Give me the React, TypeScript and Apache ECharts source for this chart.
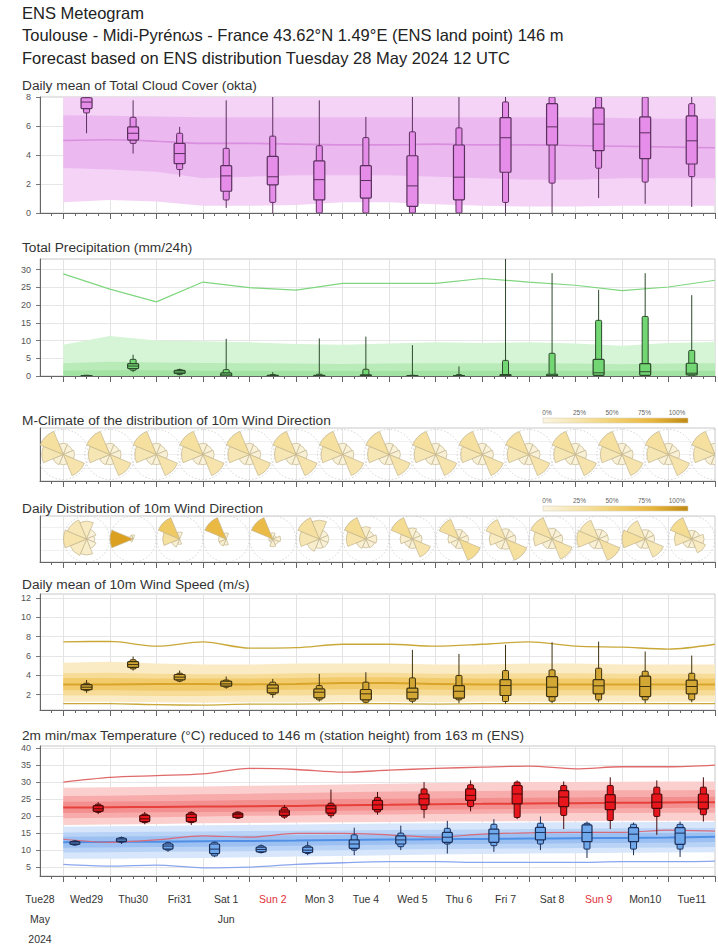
import React, { useEffect, useRef } from "react";
import * as echarts from "echarts";

const FONT = "'Liberation Sans', Arial, Helvetica, sans-serif";

// ---------- time axis: hours since Tue 28 May 2024 00 UTC ----------
const X_MIN = 12;
const X_MAX = 360;
const dayTickHours = [24, 48, 72, 96, 120, 144, 168, 192, 216, 240, 264, 288, 312, 336, 360];
const dayLabelHours = [12, 36, 60, 84, 108, 132, 156, 180, 204, 228, 252, 276, 300, 324, 348];
const dayLabels = ["Tue28", "Wed29", "Thu30", "Fri31", "Sat 1", "Sun 2", "Mon 3", "Tue 4", "Wed 5", "Thu 6", "Fri 7", "Sat 8", "Sun 9", "Mon10", "Tue11"];
const dayLabelSub: Record<string, string[]> = { Tue28: ["May", "2024"], "Sat 1": ["Jun"] };
const sundayLabels = ["Sun 2", "Sun 9"];
const sixHourTicks: number[] = [];
for (let h = 18; h < X_MAX; h += 6) if (h % 24 !== 0) sixHourTicks.push(h);

// sample times of climate bands / lines (00 UTC)
const climHours = [24, 48, 72, 96, 120, 144, 168, 192, 216, 240, 264, 288, 312, 336, 360];
// daily box times (12 UTC), min temp (06 UTC), max temp (18 UTC)
const noonHours = [36, 60, 84, 108, 132, 156, 180, 204, 228, 252, 276, 300, 324, 348];
const tminHours = [30, 54, 78, 102, 126, 150, 174, 198, 222, 246, 270, 294, 318, 342];
const tmaxHours = [42, 66, 90, 114, 138, 162, 186, 210, 234, 258, 282, 306, 330, 354];

// ---------- Cloud cover (okta) ----------
// [min, p10, p25, median, p75, p90, max]
const cloudBoxes = [
  [5.5, 6.9, 7.2, 7.65, 7.95, 8, 8],
  [4.1, 4.8, 5.03, 5.5, 5.94, 6.6, 7.77],
  [2.5, 3.0, 3.4, 4.1, 4.8, 5.5, 5.94],
  [0.35, 0.9, 1.5, 2.56, 3.27, 4.46, 7.77],
  [0, 0.73, 1.94, 2.5, 3.9, 5.3, 8],
  [0, 0, 0.9, 2.3, 3.6, 4.64, 7.77],
  [0, 0, 1.03, 2.24, 3.27, 5.2, 6.63],
  [0, 0, 0.46, 1.87, 3.95, 5.6, 8],
  [0, 0, 0.91, 2.47, 4.69, 5.87, 8],
  [0, 0.73, 2.81, 5.19, 6.58, 7.66, 8],
  [0, 2.06, 4.69, 5.94, 7.54, 8, 8],
  [1.03, 3.09, 4.3, 6.13, 7.25, 8, 8],
  [0.64, 2.13, 3.75, 5.53, 6.63, 8, 8],
  [0.41, 2.51, 3.38, 4.98, 6.7, 7.54, 8],
];
const cloudOuterLow = [0.75, 0.9, 0.8, 0.5, 0.5, 0.55, 0.75, 0.75, 0.6, 0.5, 0.45, 0.45, 0.5, 0.5, 0.5];
const cloudOuterHigh = [8, 8, 8, 8, 8, 8, 8, 8, 8, 8, 8, 8, 8, 8, 8];
const cloudInnerLow = [3.1, 3.0, 2.85, 2.4, 2.5, 2.6, 2.6, 2.6, 2.5, 2.4, 2.3, 2.3, 2.4, 2.4, 2.4];
const cloudInnerHigh = [6.75, 6.7, 6.65, 6.6, 6.6, 6.6, 6.6, 6.6, 6.6, 6.6, 6.6, 6.6, 6.55, 6.5, 6.5];
const cloudMedian = [5.0, 5.05, 4.95, 4.8, 4.8, 4.75, 4.7, 4.7, 4.75, 4.7, 4.7, 4.65, 4.6, 4.55, 4.5];

// ---------- Precipitation (mm/24h) ----------
const precipBoxes = [
  [0, 0, 0, 0.05, 0.1, 0.2, 0.3],
  [1.1, 1.6, 2.1, 2.8, 3.5, 4.7, 6.0],
  [0.2, 0.4, 0.7, 1.1, 1.6, 1.8, 2.1],
  [0, 0, 0, 0.3, 0.9, 1.8, 10.5],
  [0, 0, 0, 0.05, 0.2, 0.4, 1.1],
  [0, 0, 0, 0, 0.2, 0.5, 10.6],
  [0, 0, 0, 0.1, 0.3, 1.9, 11.1],
  [0, 0, 0, 0, 0.1, 0.2, 8.7],
  [0, 0, 0, 0, 0.1, 0.4, 2.7],
  [0, 0, 0, 0.1, 0.4, 4.4, 34],
  [0, 0, 0, 0.1, 0.5, 6.4, 29],
  [0, 0, 0.2, 0.9, 4.7, 15.7, 24.3],
  [0, 0, 0.2, 1.2, 3.5, 16.8, 29],
  [0, 0, 0.3, 0.8, 3.6, 7.2, 22.8],
];
const precipOuterHigh = [8.8, 11.3, 10.0, 9.8, 9.5, 9.0, 8.8, 9.2, 9.5, 9.3, 9.5, 9.2, 8.5, 9.3, 9.6];
const precipMidHigh = [3.6, 4.0, 3.8, 3.7, 3.6, 3.5, 3.4, 3.5, 3.6, 3.6, 3.6, 3.5, 3.3, 3.5, 3.6];
const precipInnerHigh = [1.5, 1.6, 1.6, 1.5, 1.5, 1.4, 1.4, 1.4, 1.5, 1.5, 1.5, 1.4, 1.4, 1.4, 1.5];
const precipZero = [0, 0, 0, 0, 0, 0, 0, 0, 0, 0, 0, 0, 0, 0, 0];
const precipClimMax = [28.8, 24.5, 20.9, 26.5, 24.9, 24.2, 26.1, 26.1, 26.1, 27.5, 26.5, 25.6, 24.1, 25.1, 27.0];

// ---------- Wind direction roses: [N, NE, E, SE, S, SW, W, NW] (%) ----------
const climateRoseFreq = [6, 5, 6, 25, 5, 6, 22, 30];
const dailyRoseFreq = [
  [15, 5, 3, 5, 12, 15, 25, 20],
  [3, 0, 0, 0, 0, 2, 92, 3],
  [5, 0, 0, 0, 3, 8, 30, 55],
  [5, 0, 0, 0, 5, 8, 8, 72],
  [5, 2, 8, 5, 8, 2, 2, 70],
  [20, 5, 5, 5, 5, 10, 22, 30],
  [10, 5, 8, 6, 5, 7, 25, 35],
  [8, 5, 6, 25, 6, 5, 10, 35],
  [6, 5, 6, 35, 6, 5, 8, 30],
  [6, 5, 6, 30, 6, 7, 15, 25],
  [6, 5, 6, 25, 5, 6, 18, 28],
  [5, 5, 5, 28, 5, 6, 25, 22],
  [5, 5, 5, 22, 5, 6, 30, 22],
  [5, 5, 10, 15, 5, 6, 20, 35],
];
const roseLegendLabels = ["0%", "25%", "50%", "75%", "100%"];

// ---------- Wind speed (m/s) ----------
const windBoxes = [
  [2.17, 2.4, 2.5, 2.76, 3.03, 3.17, 3.5],
  [4.48, 4.65, 4.8, 5.1, 5.4, 5.6, 5.93],
  [3.28, 3.38, 3.52, 3.8, 4.07, 4.2, 4.48],
  [2.6, 2.76, 2.86, 3.1, 3.38, 3.5, 3.86],
  [1.66, 2.0, 2.17, 2.66, 3.0, 3.28, 3.62],
  [1.28, 1.45, 1.66, 2.24, 2.59, 2.93, 4.14],
  [1.1, 1.2, 1.45, 2.07, 2.52, 3.28, 4.31],
  [1.1, 1.31, 1.55, 2.24, 2.66, 3.72, 6.62],
  [1.1, 1.45, 1.62, 2.34, 2.93, 3.97, 6.2],
  [1.03, 1.28, 1.9, 2.93, 3.55, 4.48, 7.14],
  [1.1, 1.31, 1.79, 2.76, 3.86, 4.55, 7.41],
  [1.2, 1.45, 2.07, 2.9, 3.55, 4.72, 7.48],
  [1.1, 1.45, 1.79, 2.83, 3.9, 4.41, 6.45],
  [1.2, 1.45, 2.07, 2.83, 3.5, 4.2, 6.03],
];
const windOuterLow = [1.25, 1.25, 1.2, 1.15, 1.2, 1.2, 1.25, 1.25, 1.2, 1.25, 1.25, 1.25, 1.25, 1.25, 1.25];
const windOuterHigh = [5.3, 5.4, 5.2, 5.1, 5.1, 5.2, 5.2, 5.2, 5.1, 5.1, 5.2, 5.2, 5.1, 5.1, 5.1];
const windMidLow = [1.9, 1.9, 1.85, 1.85, 1.9, 1.9, 1.95, 1.95, 1.9, 1.9, 1.9, 1.9, 1.9, 1.9, 1.9];
const windMidHigh = [4.2, 4.25, 4.15, 4.1, 4.1, 4.2, 4.25, 4.25, 4.15, 4.15, 4.2, 4.2, 4.15, 4.15, 4.15];
const windInnerLow = [2.45, 2.45, 2.4, 2.4, 2.45, 2.5, 2.55, 2.55, 2.5, 2.45, 2.45, 2.45, 2.45, 2.45, 2.45];
const windInnerHigh = [3.7, 3.7, 3.65, 3.65, 3.65, 3.7, 3.8, 3.8, 3.7, 3.65, 3.65, 3.65, 3.65, 3.65, 3.65];
const windMedian = [3.05, 3.05, 3.1, 3.1, 3.05, 3.1, 3.2, 3.2, 3.1, 3.05, 3.05, 3.05, 3.05, 3.05, 3.05];
const windClimMax = [7.45, 7.5, 7.0, 7.45, 6.8, 6.85, 7.2, 7.2, 7.0, 7.2, 7.45, 7.0, 6.9, 6.7, 7.2];
const windClimMin = [1.05, 1.05, 0.95, 0.9, 1.0, 1.0, 1.05, 1.05, 1.0, 1.05, 1.05, 1.05, 1.05, 1.05, 1.05];

// ---------- Temperature (°C) ----------
const tmaxBoxes = [
  [20.7, 21.2, 21.5, 22.25, 23.2, 23.6, 24.2],
  [17.7, 18.2, 18.5, 19.3, 20.3, 20.7, 21.3],
  [17.5, 18.2, 18.5, 19.7, 20.7, 21.2, 21.5],
  [19.3, 19.5, 19.7, 20.5, 21.0, 21.3, 21.5],
  [19.3, 19.8, 20.3, 21.3, 21.9, 22.6, 23.4],
  [19.5, 20.2, 21.0, 22.25, 23.2, 23.9, 27.9],
  [20.5, 21.3, 22.0, 23.4, 24.7, 25.6, 27.2],
  [19.5, 22.0, 23.4, 25.2, 26.6, 28.1, 30.1],
  [21.5, 22.9, 24.7, 26.2, 28.1, 29.3, 30.6],
  [19.2, 19.7, 23.7, 26.6, 29.1, 30.1, 30.6],
  [16.3, 20.3, 22.9, 25.7, 27.6, 29.1, 30.3],
  [16.3, 18.8, 22.0, 24.2, 26.4, 29.1, 31.5],
  [14.6, 20.0, 22.4, 24.2, 26.6, 28.6, 30.6],
  [18.5, 20.5, 22.2, 24.2, 26.6, 28.6, 31.5],
];
const tminBoxes = [
  [11.4, 11.6, 11.8, 12.2, 12.6, 12.8, 13.1],
  [11.9, 12.4, 12.6, 13.1, 13.6, 13.8, 14.1],
  [9.6, 10.1, 10.4, 11.3, 11.9, 12.3, 12.6],
  [8.1, 8.4, 9.1, 10.4, 11.9, 12.4, 12.6],
  [9.1, 9.4, 9.6, 10.3, 11.0, 11.4, 11.8],
  [8.6, 9.1, 9.4, 10.1, 11.0, 11.4, 12.6],
  [8.6, 10.1, 10.6, 11.9, 13.1, 14.6, 16.7],
  [10.1, 11.1, 11.9, 13.1, 14.3, 15.1, 17.3],
  [9.1, 11.9, 12.4, 13.9, 15.3, 16.5, 18.7],
  [9.6, 11.4, 12.4, 14.9, 16.3, 17.7, 19.2],
  [10.1, 11.9, 13.1, 15.3, 16.8, 18.0, 20.0],
  [7.8, 10.4, 12.6, 15.3, 17.5, 18.0, 18.5],
  [8.6, 10.4, 12.6, 14.8, 16.7, 17.7, 18.2],
  [8.1, 10.4, 11.8, 15.1, 16.7, 17.7, 18.5],
];
const tmaxOuterHigh = [28.4, 28.6, 28.7, 28.8, 29.0, 29.2, 29.4, 29.6, 29.8, 30.0, 30.1, 30.1, 30.2, 30.3, 30.3];
const tmaxOuterLow = [17.5, 17.6, 17.8, 18.0, 18.1, 18.2, 18.3, 18.4, 18.5, 18.5, 18.6, 18.6, 18.7, 18.7, 18.7];
const tmaxMidHigh = [26.0, 26.1, 26.3, 26.5, 26.7, 26.9, 27.1, 27.3, 27.4, 27.5, 27.6, 27.6, 27.7, 27.7, 27.8];
const tmaxMidLow = [19.5, 19.6, 19.8, 20.0, 20.2, 20.3, 20.5, 20.6, 20.7, 20.8, 20.9, 21.0, 21.0, 21.1, 21.1];
const tmaxInnerHigh = [24.3, 24.4, 24.5, 24.6, 24.8, 24.9, 25.1, 25.2, 25.3, 25.4, 25.5, 25.6, 25.7, 25.7, 25.8];
const tmaxInnerLow = [21.0, 21.1, 21.2, 21.3, 21.4, 21.5, 21.7, 21.8, 22.0, 22.1, 22.2, 22.3, 22.4, 22.5, 22.6];
const tmaxMedian = [22.6, 22.7, 22.8, 22.9, 23.0, 23.1, 23.3, 23.4, 23.6, 23.7, 23.8, 23.9, 24.0, 24.1, 24.2];
const tmaxClimMax = [30.1, 31.5, 32.0, 32.5, 34.1, 33.8, 33.0, 33.6, 34.1, 34.5, 34.8, 34.0, 34.6, 34.6, 35.1];
const tmaxClimMin = [13.3, 12.4, 13.1, 14.3, 13.9, 15.0, 15.0, 14.6, 13.9, 14.8, 15.2, 15.3, 15.3, 16.0, 15.7];
const tminOuterHigh = [17.0, 17.1, 17.2, 17.4, 17.5, 17.6, 17.8, 17.9, 18.0, 18.1, 18.2, 18.3, 18.3, 18.4, 18.4];
const tminOuterLow = [7.6, 7.6, 7.7, 7.8, 8.0, 8.2, 8.4, 8.6, 8.8, 9.0, 9.1, 9.2, 9.3, 9.4, 9.5];
const tminMidHigh = [15.3, 15.4, 15.5, 15.6, 15.7, 15.8, 15.9, 16.0, 16.1, 16.2, 16.3, 16.4, 16.5, 16.5, 16.6];
const tminMidLow = [9.4, 9.5, 9.6, 9.7, 9.8, 10.0, 10.1, 10.3, 10.4, 10.5, 10.6, 10.7, 10.8, 10.9, 11.0];
const tminInnerHigh = [14.0, 14.1, 14.2, 14.3, 14.4, 14.5, 14.6, 14.7, 14.8, 14.9, 15.0, 15.0, 15.1, 15.1, 15.2];
const tminInnerLow = [10.8, 10.9, 11.0, 11.1, 11.2, 11.4, 11.5, 11.7, 11.8, 11.9, 12.0, 12.1, 12.2, 12.3, 12.5];
const tminMedian = [12.4, 12.5, 12.6, 12.7, 12.8, 12.9, 13.1, 13.2, 13.3, 13.4, 13.5, 13.6, 13.7, 13.8, 14.0];
const tminClimMin = [5.9, 5.4, 5.7, 4.9, 5.1, 5.9, 6.4, 6.7, 6.7, 6.5, 6.5, 6.5, 6.7, 6.7, 6.9];

// ---------- texts ----------
const headerLines = [
  "ENS Meteogram",
  "Toulouse - Midi-Pyrénωs - France 43.62°N 1.49°E (ENS land point) 146 m",
  "Forecast based on ENS distribution Tuesday 28 May 2024 12 UTC",
];
const panelTitles = [
  "Daily mean of Total Cloud Cover (okta)",
  "Total Precipitation (mm/24h)",
  "M-Climate of the distribution of 10m Wind Direction",
  "Daily Distribution of 10m Wind Direction",
  "Daily mean of 10m Wind Speed (m/s)",
  "2m min/max Temperature (°C) reduced to 146 m (station height) from 163 m (ENS)",
];

// ---------- layout ----------
const GRID_LEFT = 40;
const GRID_WIDTH = 675;
const panels = [
  { top: 97, height: 116, titleY: 85, min: 0, max: 8, ticks: [0, 2, 4, 6, 8], labels: true },
  { top: 259, height: 117, titleY: 247, min: 0, max: 33, ticks: [0, 5, 10, 15, 20, 25, 30], labels: true },
  { top: 428, height: 53, titleY: 420, min: 0, max: 1, ticks: [0.25, 0.5, 0.75], labels: false },
  { top: 516, height: 46, titleY: 508, min: 0, max: 1, ticks: [0.25, 0.5, 0.75], labels: false },
  { top: 594, height: 116, titleY: 584, min: 0.4, max: 12.4, ticks: [2, 4, 6, 8, 10, 12], labels: true },
  { top: 746, height: 130, titleY: 735, min: 2.5, max: 40.7, ticks: [5, 10, 15, 20, 25, 30, 35, 40], labels: true },
];

const roseStops: [number, number[]][] = [
  [0, [250, 245, 228]],
  [25, [246, 228, 172]],
  [50, [241, 207, 110]],
  [75, [233, 182, 62]],
  [100, [214, 150, 18]],
];
function roseColor(p: number) {
  for (let i = 1; i < roseStops.length; i++) {
    const [p1, c1] = roseStops[i];
    const [p0, c0] = roseStops[i - 1];
    if (p <= p1) {
      const t = (p - p0) / (p1 - p0);
      const c = c0.map((v, k) => Math.round(v + (c1[k] - v) * t));
      return `rgb(${c[0]},${c[1]},${c[2]})`;
    }
  }
  return "rgb(214,150,18)";
}

function bandSeries(gi: number, hours: number[], low: number[], high: number[], color: string) {
  return {
    type: "custom",
    xAxisIndex: gi * 2,
    yAxisIndex: gi,
    silent: true,
    clip: true,
    z: 1,
    data: [[hours[0], low[0]]],
    encode: { x: 0, y: 1 },
    renderItem: (params: any, api: any) => {
      const top = high.map((v, k) => api.coord([hours[k], v]));
      const bot = low.map((v, k) => api.coord([hours[k], v])).reverse();
      return {
        type: "polygon",
        shape: { points: top.concat(bot) },
        style: { fill: color, stroke: "none" },
      };
    },
  };
}

function lineSeries(gi: number, hours: number[], vals: number[], color: string, width: number, smooth: any) {
  return {
    type: "line",
    xAxisIndex: gi * 2,
    yAxisIndex: gi,
    silent: true,
    z: 2,
    showSymbol: false,
    smooth,
    data: hours.map((h, k) => [h, vals[k]]),
    lineStyle: { color, width },
  };
}

function boxSeries(gi: number, hours: number[], boxes: number[][], fill: string, stroke: string, wide: number, narrow: number) {
  return {
    type: "custom",
    xAxisIndex: gi * 2,
    yAxisIndex: gi,
    silent: true,
    clip: true,
    z: 3,
    data: hours.map((h, k) => [h, ...boxes[k]]),
    encode: { x: 0, y: [1, 2, 3, 4, 5, 6, 7] },
    renderItem: (params: any, api: any) => {
      const x = api.value(0);
      const y = (i: number) => api.coord([x, api.value(i)]);
      const pMin = y(1), p10 = y(2), p25 = y(3), pMed = y(4), p75 = y(5), p90 = y(6), pMax = y(7);
      const cx = pMin[0];
      return {
        type: "group",
        children: [
          { type: "line", shape: { x1: cx, y1: pMax[1], x2: cx, y2: pMin[1] }, style: { stroke, lineWidth: 1 } },
          {
            type: "rect",
            shape: { x: cx - narrow / 2, y: p90[1], width: narrow, height: Math.max(p10[1] - p90[1], 0.5), r: 1 },
            style: { fill, stroke, lineWidth: 1 },
          },
          {
            type: "rect",
            shape: { x: cx - wide / 2, y: p75[1], width: wide, height: Math.max(p25[1] - p75[1], 0.5), r: 1 },
            style: { fill, stroke, lineWidth: 1.2 },
          },
          { type: "line", shape: { x1: cx - wide / 2, y1: pMed[1], x2: cx + wide / 2, y2: pMed[1] }, style: { stroke, lineWidth: 1 } },
        ],
      };
    },
  };
}

function roseSeries(gi: number, hours: number[], freqs: number[][], R: number) {
  return {
    type: "custom",
    xAxisIndex: gi * 2,
    yAxisIndex: gi,
    silent: true,
    clip: true,
    z: 3,
    data: hours.map((h, k) => [h, 0.5, k]),
    encode: { x: 0, y: 1 },
    renderItem: (params: any, api: any) => {
      const k = api.value(2);
      const f = freqs[k];
      const [cx, cy] = api.coord([api.value(0), api.value(1)]);
      const fmax = Math.max(...f);
      const children: any[] = [
        { type: "circle", shape: { cx, cy, r: R }, style: { fill: "none", stroke: "#c9c9c9", lineWidth: 0.8, lineDash: [1.5, 2] } },
      ];
      f.forEach((v, d) => {
        if (v <= 0) return;
        const bearing = d * 45;
        const r = R * Math.sqrt(v / fmax);
        children.push({
          type: "sector",
          shape: {
            cx,
            cy,
            r0: 0,
            r,
            startAngle: ((bearing - 22.5 - 90) * Math.PI) / 180,
            endAngle: ((bearing + 22.5 - 90) * Math.PI) / 180,
            clockwise: true,
          },
          style: { fill: roseColor(v), stroke: "#c3b48c", lineWidth: 0.7 },
        });
      });
      return { type: "group", children };
    },
  };
}

function dayLabelFormatter(value: number) {
  const i = dayLabelHours.indexOf(value);
  if (i < 0) return "";
  const name = dayLabels[i];
  const style = sundayLabels.includes(name) ? "s" : "d";
  const sub = dayLabelSub[name] || [];
  return [`{${style}|${name}}`, ...sub.map((s) => `{d|${s}}`)].join("\n");
}

function buildOption() {
  const grids = panels.map((p) => ({
    left: GRID_LEFT,
    width: GRID_WIDTH,
    top: p.top,
    height: p.height,
    show: true,
    borderColor: "#c8c8c8",
    borderWidth: 1,
    containLabel: false,
  }));

  const xAxes: any[] = [];
  panels.forEach((p, i) => {
    const isBottom = i === panels.length - 1;
    xAxes.push({
      gridIndex: i,
      type: "value",
      min: X_MIN,
      max: X_MAX,
      position: "bottom",
      axisLine: { show: true, onZero: false, lineStyle: { color: "#666", width: 1 } },
      axisTick: { show: true, length: 6, customValues: dayTickHours, lineStyle: { color: "#666" } },
      axisLabel: isBottom
        ? {
            show: true,
            customValues: dayLabelHours,
            formatter: dayLabelFormatter,
            margin: 13,
            rich: {
              d: { color: "#333", fontSize: 10.5, lineHeight: 20, fontFamily: FONT },
              s: { color: "#e0303a", fontSize: 10.5, lineHeight: 20, fontFamily: FONT },
            },
          }
        : { show: false },
      splitLine: { show: true, lineStyle: { color: "#e3e3e3", width: 1 } },
    });
    xAxes.push({
      gridIndex: i,
      type: "value",
      min: X_MIN,
      max: X_MAX,
      position: "bottom",
      axisLine: { show: false, onZero: false },
      axisTick: { show: true, length: 3, customValues: sixHourTicks, lineStyle: { color: "#666" } },
      axisLabel: { show: false },
      splitLine: { show: false },
    });
  });

  const yAxes = panels.map((p, i) => ({
    gridIndex: i,
    type: "value",
    min: p.min,
    max: p.max,
    axisLine: { show: true, onZero: false, lineStyle: { color: "#666", width: 1 } },
    axisTick: { show: p.labels, length: 4, customValues: p.ticks, lineStyle: { color: "#777" } },
    axisLabel: p.labels
      ? { show: true, customValues: p.ticks, fontSize: 9, color: "#555", margin: 9, fontFamily: FONT }
      : { show: false },
    splitLine: { show: true, lineStyle: { color: p.labels ? "#e6e6e6" : "#f0f0f0", width: 1 } },
  }));

  const series: any[] = [
    // cloud cover
    bandSeries(0, climHours, cloudOuterLow, cloudOuterHigh, "#f4d3f6"),
    bandSeries(0, climHours, cloudInnerLow, cloudInnerHigh, "#ebb9ef"),
    lineSeries(0, climHours, cloudMedian, "#d98ede", 1.6, 0.3),
    boxSeries(0, noonHours, cloudBoxes, "#e58de9", "#5b2f5e", 11, 6),
    // precipitation
    bandSeries(1, climHours, precipZero, precipOuterHigh, "#d6f4d6"),
    bandSeries(1, climHours, precipZero, precipMidHigh, "#b8ebb8"),
    bandSeries(1, climHours, precipZero, precipInnerHigh, "#a2e2a2"),
    lineSeries(1, climHours, precipClimMax, "#7fd67f", 1.2, false),
    boxSeries(1, noonHours, precipBoxes, "#72d672", "#2c4a2c", 11, 6),
    // wind roses
    roseSeries(2, climHours, climHours.map(() => climateRoseFreq), 25),
    roseSeries(3, noonHours, dailyRoseFreq, 23),
    // wind speed
    bandSeries(4, climHours, windOuterLow, windOuterHigh, "#fbebc4"),
    bandSeries(4, climHours, windMidLow, windMidHigh, "#f7dc98"),
    bandSeries(4, climHours, windInnerLow, windInnerHigh, "#f2cc6c"),
    lineSeries(4, climHours, windMedian, "#d8a52a", 2, 0.3),
    lineSeries(4, climHours, windClimMax, "#c9a838", 1.3, 0.3),
    lineSeries(4, climHours, windClimMin, "#c9a838", 1.3, 0.3),
    boxSeries(4, noonHours, windBoxes, "#d3a734", "#3e3210", 11, 6),
    // temperature
    bandSeries(5, climHours, tmaxOuterLow, tmaxOuterHigh, "#fccfcf"),
    bandSeries(5, climHours, tmaxMidLow, tmaxMidHigh, "#f8abab"),
    bandSeries(5, climHours, tmaxInnerLow, tmaxInnerHigh, "#f38f8f"),
    bandSeries(5, climHours, tminOuterLow, tminOuterHigh, "#d7e6fb"),
    bandSeries(5, climHours, tminMidLow, tminMidHigh, "#b9d3f6"),
    bandSeries(5, climHours, tminInnerLow, tminInnerHigh, "#9cc0f1"),
    lineSeries(5, climHours, tmaxMedian, "#e8403a", 2, 0.3),
    lineSeries(5, climHours, tminMedian, "#4f8fe6", 2, 0.3),
    lineSeries(5, climHours, tmaxClimMax, "#e06a6a", 1.3, 0.3),
    lineSeries(5, climHours, tmaxClimMin, "#d86a7a", 1.2, 0.3),
    lineSeries(5, climHours, tminClimMin, "#8aa6ee", 1.3, 0.3),
    boxSeries(5, tmaxHours, tmaxBoxes, "#e8161c", "#4a0a0a", 10, 6),
    boxSeries(5, tminHours, tminBoxes, "#70a8ec", "#1c2f58", 10, 6),
  ];

  const elements: any[] = [];
  headerLines.forEach((t, i) => {
    elements.push({
      type: "text",
      x: 22,
      y: [13, 35, 58][i],
      style: { text: t, font: `16.5px ${FONT}`, fill: "#222", verticalAlign: "middle" },
    });
  });
  panels.forEach((p, i) => {
    elements.push({
      type: "text",
      x: 22,
      y: p.titleY,
      style: { text: panelTitles[i], font: `13.7px ${FONT}`, fill: "#333", verticalAlign: "middle" },
    });
  });
  // colour legends of the wind roses
  [panels[2].top - 10, panels[3].top - 10].forEach((barY) => {
    elements.push({
      type: "rect",
      shape: { x: 543, y: barY, width: 145, height: 5 },
      style: {
        fill: new echarts.graphic.LinearGradient(0, 0, 1, 0, [
          { offset: 0, color: roseColor(0) },
          { offset: 0.25, color: roseColor(25) },
          { offset: 0.5, color: roseColor(50) },
          { offset: 0.75, color: roseColor(75) },
          { offset: 1, color: "#c08a12" },
        ]),
        stroke: "#d8d0b8",
        lineWidth: 0.6,
      },
    });
    roseLegendLabels.forEach((lab, k) => {
      elements.push({
        type: "text",
        x: 547 + k * 32.5,
        y: barY - 6,
        style: { text: lab, font: `6.5px ${FONT}`, fill: "#666", align: "center", verticalAlign: "middle" },
      });
    });
  });

  return {
    animation: false,
    backgroundColor: "#ffffff",
    textStyle: { fontFamily: FONT },
    grid: grids,
    xAxis: xAxes,
    yAxis: yAxes,
    series,
    graphic: { elements },
  };
}

export default function App() {
  const ref = useRef<HTMLDivElement>(null);
  useEffect(() => {
    if (!ref.current) return;
    const chart = echarts.init(ref.current, null, { renderer: "svg", width: 718, height: 945 });
    chart.setOption(buildOption() as any);
    return () => chart.dispose();
  }, []);
  return (
    <div
      ref={ref}
      style={{ position: "absolute", left: 0, top: 0, width: 718, height: 945, background: "#fff" }}
    />
  );
}
